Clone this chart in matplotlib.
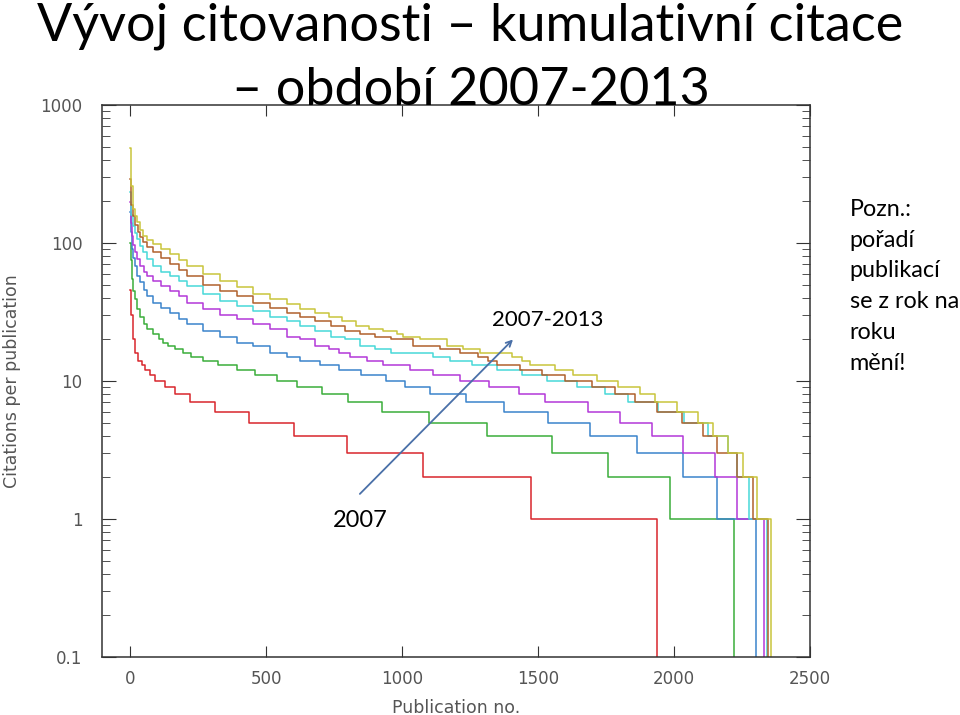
import matplotlib
matplotlib.use("Agg")
import matplotlib.pyplot as plt
from matplotlib.ticker import LogLocator, NullFormatter, FixedLocator

# ranks where each citation level starts (sorted publications), per year
rank_2007 = [0, 5, 11, 18, 30, 45, 55, 75, 92, 129, 165, 222, 313, 437, 603, 798, 1077, 1474, 1937]
cites_2007 = [46, 30, 20, 16, 14, 13, 12, 11, 10, 9, 8, 7, 6, 5, 4, 3, 2, 1, 0.01]

rank_2008 = [0, 2, 7, 12, 18, 27, 37, 50, 62, 85, 105, 121, 140, 165, 195, 225, 270, 324, 393, 460,
             540, 614, 706, 801, 926, 1099, 1312, 1551, 1757, 1985, 2220]
cites_2008 = [100, 75, 55, 45, 39, 33, 29, 26, 24, 22, 20, 19, 18, 17, 16, 15, 14, 13, 12, 11,
              10, 9, 8, 7, 6, 5, 4, 3, 2, 1, 0.01]

rank_2009 = [0, 3, 7, 12, 18, 27, 37, 50, 62, 85, 115, 147, 180, 210, 268, 331, 393, 452, 515, 577,
             625, 700, 770, 850, 940, 1011, 1103, 1235, 1375, 1537, 1691, 1864, 2033, 2158, 2301]
cites_2009 = [168, 120, 90, 78, 68, 58, 52, 46, 41, 37, 34, 31, 28, 26, 23, 21, 19, 18, 16, 15,
              14, 13, 12, 11, 10, 9, 8, 7, 6, 5, 4, 3, 2, 1, 0.01]

rank_2010 = [0, 3, 7, 12, 18, 27, 37, 50, 62, 85, 115, 147, 180, 210, 268, 331, 393, 452, 515, 577,
             625, 680, 730, 770, 810, 870, 930, 1029, 1114, 1213, 1320, 1430, 1526, 1684, 1801, 1919,
             2033, 2150, 2231, 2331]
cites_2010 = [198, 140, 112, 97, 86, 76, 68, 62, 58, 53, 49, 45, 41, 37, 33, 30, 28, 26, 24, 21,
              20, 18, 17, 16, 15, 14, 13, 12, 11, 10, 9, 8, 7, 6, 5, 4, 3, 2, 1, 0.01]

rank_2011 = [0, 4, 11, 18, 26, 37, 48, 62, 85, 115, 147, 180, 210, 268, 331, 393, 452, 515, 577, 625,
             680, 740, 790, 845, 900, 960, 1114, 1176, 1257, 1349, 1441, 1533, 1643, 1746, 1831, 1941,
             2036, 2125, 2198, 2231, 2275, 2342]
cites_2011 = [234, 160, 133, 118, 107, 95, 86, 76, 68, 62, 58, 53, 49, 43, 38, 35, 32, 29, 27, 25,
              23, 21, 20, 18, 17, 16, 15, 14, 13, 12, 11, 10, 9, 8, 7, 6, 5, 4, 3, 2, 1, 0.01]

rank_2012 = [0, 4, 11, 18, 29, 37, 48, 62, 85, 115, 147, 180, 210, 268, 331, 393, 452, 515, 577, 625,
             680, 740, 790, 845, 900, 960, 1040, 1139, 1213, 1279, 1315, 1349, 1434, 1515, 1599, 1698,
             1783, 1856, 1937, 2029, 2106, 2158, 2231, 2290, 2345]
cites_2012 = [290, 190, 156, 135, 120, 110, 101, 93, 86, 78, 70, 64, 58, 50, 45, 41, 37, 34, 31, 29,
              27, 25, 23, 22, 21, 20, 18, 17, 16, 15, 14, 13, 12, 11, 10, 9, 8, 7, 6, 5, 4, 3, 2, 1, 0.01]

rank_2013 = [0, 4, 11, 18, 26, 37, 48, 62, 85, 115, 147, 180, 210, 268, 331, 393, 452, 515, 577, 625,
             680, 730, 780, 830, 880, 930, 980, 1004, 1066, 1165, 1224, 1287, 1403, 1440, 1470, 1562,
             1630, 1716, 1795, 1875, 1930, 2010, 2089, 2144, 2200, 2255, 2304, 2355]
cites_2013 = [490, 260, 177, 158, 142, 125, 112, 105, 98, 90, 83, 75, 68, 60, 53, 48, 43, 39, 36, 33,
              31, 29, 27, 25, 24, 23, 22, 21, 20, 18, 17, 16, 15, 14, 13, 12, 11, 10, 9, 8, 7, 6, 5, 4,
              3, 2, 1, 0.01]

series = [
    (rank_2007, cites_2007, "#d9262c"),
    (rank_2008, cites_2008, "#3aae3a"),
    (rank_2009, cites_2009, "#3a84cc"),
    (rank_2010, cites_2010, "#b338d8"),
    (rank_2011, cites_2011, "#48d8d8"),
    (rank_2012, cites_2012, "#b0612c"),
    (rank_2013, cites_2013, "#c9c53c"),
]

fig = plt.figure(figsize=(9.6, 7.15), dpi=100)
ax = fig.add_axes([0.10625, 0.0811, 0.7375, 0.772])

for r, c, col in series:
    ax.step(r, c, where="post", color=col, linewidth=1.1)

ax.set_yscale("log")
ax.set_ylim(0.1, 1000)
ax.set_xlim(-103, 2500)

ax.xaxis.set_major_locator(FixedLocator([0, 500, 1000, 1500, 2000, 2500]))
ax.yaxis.set_major_locator(FixedLocator([0.1, 1, 10, 100, 1000]))
ax.yaxis.set_minor_locator(LogLocator(base=10, subs=range(2, 10)))
ax.yaxis.set_minor_formatter(NullFormatter())
ax.set_yticklabels(["0.1", "1", "10", "100", "1000"])

ax.tick_params(which="both", direction="in", top=True, right=True, colors="#333333",
               labelsize=12, labelcolor="#555555")
ax.tick_params(axis="y", which="major", length=10, pad=14)
ax.tick_params(axis="y", which="minor", length=6)
ax.tick_params(axis="x", which="major", length=8, pad=9)
for s in ax.spines.values():
    s.set_color("#333333")
    s.set_linewidth(1.1)

ax.set_xlabel("Publication no.", fontsize=12.5, color="#555555", labelpad=8)
ax.set_ylabel("Citations per publication", fontsize=12.5, color="#555555", labelpad=14)

# annotation arrow from 2007 to 2007-2013
ax.annotate("", xy=(1408, 20), xytext=(845, 1.52),
            arrowprops=dict(arrowstyle="->", color="#4a70a8", lw=1.3, shrinkA=0, shrinkB=0))
ax.text(1537, 27.7, "2007-2013", fontsize=16, family="Lato", ha="center", va="center")
ax.text(845, 0.97, "2007", fontsize=17, family="Lato", ha="center", va="center")

# title
fig.text(0.49, 0.943, "Vývoj citovanosti – kumulativní citace", fontsize=37.5, family="Lato",
         ha="center", va="baseline")
fig.text(0.49, 0.853, "– období 2007-2013", fontsize=37.5, family="Lato",
         ha="center", va="baseline")

# side note
fig.text(0.885, 0.722, "Pozn.:\npořadí\npublikací\nse z rok na\nroku\nmění!", fontsize=16.8,
         family="Lato", ha="left", va="top", linespacing=1.58)

fig.savefig("out.png", dpi=100)
